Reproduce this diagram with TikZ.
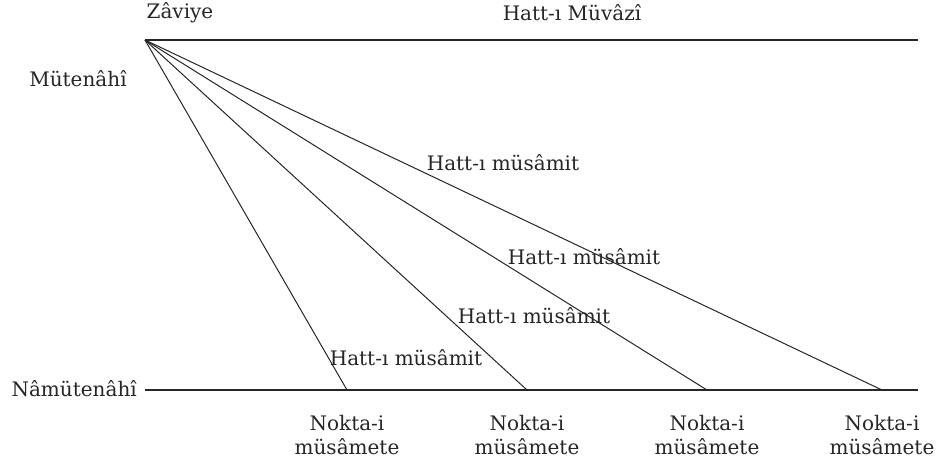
\documentclass[tikz,border=0pt]{standalone}
\usepackage{fontspec}
\setmainfont{DejaVu Serif}
\begin{document}
\begin{tikzpicture}[x=1pt,y=-1pt,
  lbl/.style={inner sep=0pt,font=\fontsize{20}{24}\selectfont,text=black!85},
  ln/.style={line width=1pt,black!85}]
\useasboundingbox (0,0) rectangle (942,462);
\coordinate (A) at (145,40);
\coordinate (R) at (918,40);
\coordinate (L) at (145,390);
\coordinate (B) at (918,390);
\coordinate (P1) at (347,390);
\coordinate (P2) at (527,390);
\coordinate (P3) at (707,390);
\coordinate (P4) at (882,390);
\draw[ln,line width=1.4pt] (A) -- (R);
\draw[ln,line width=1.4pt] (L) -- (B);
\draw[ln] (A) -- (P1);
\draw[ln] (A) -- (P2);
\draw[ln] (A) -- (P3);
\draw[ln] (A) -- (P4);
\node[lbl] (zav) at (180,13) {Zâviye};
\node[lbl] (par) at (572,13) {Hatt-ı Müvâzî};
\node[lbl] (mut) at (78,79) {Mütenâhî};
\node[lbl,anchor=east] (namut) at (137,389) {Nâmütenâhî};
\node[lbl] (h1) at (503,163) {Hatt-ı müsâmit};
\node[lbl] (h2) at (584,257) {Hatt-ı müsâmit};
\node[lbl] (h3) at (534,316) {Hatt-ı müsâmit};
\node[lbl] (h4) at (406,358) {Hatt-ı müsâmit};
\foreach \p/\n in {P1/n1,P2/n2,P3/n3,P4/n4}{
  \node[lbl,align=center] (\n) at ([yshift=-45pt]\p) {Nokta-i\\müsâmete};
}
\end{tikzpicture}
\end{document}
